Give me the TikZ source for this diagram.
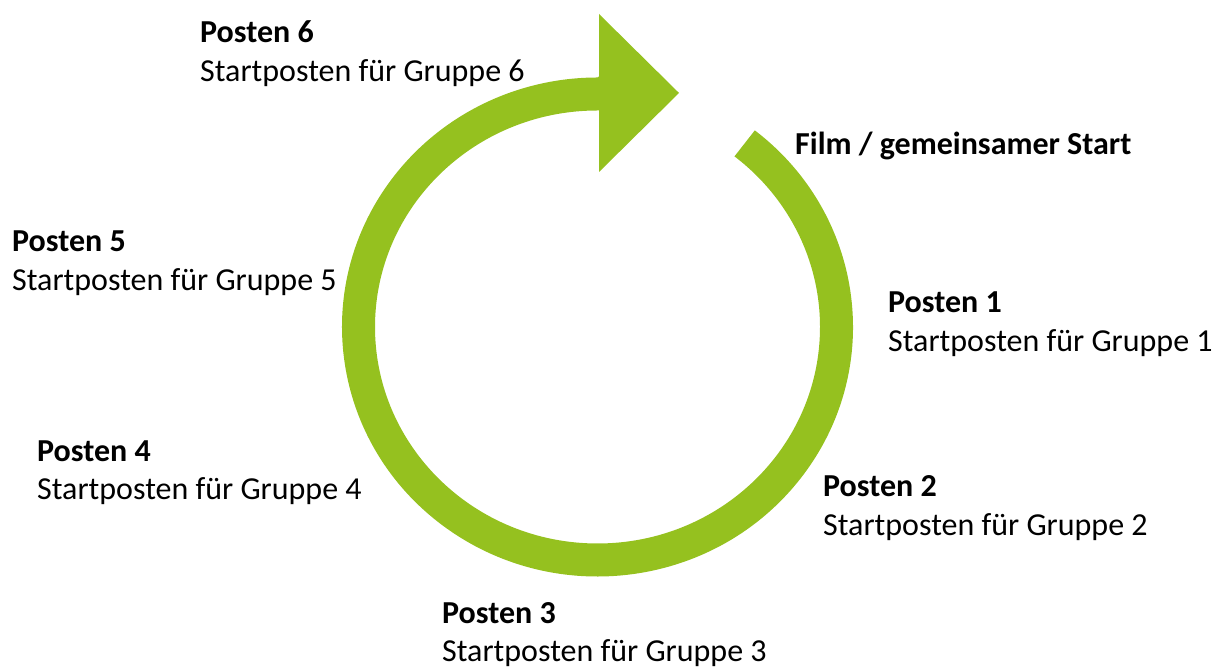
\documentclass[tikz,border=0pt]{standalone}
\usepackage{fontspec}
\setmainfont{Carlito}
\usetikzlibrary{calc}
\definecolor{ringgreen}{RGB}{149,193,31}
\begin{document}
\begin{tikzpicture}[x=1pt,y=1pt,
  ttl/.style={anchor=base west,inner sep=0pt,font=\fontsize{32}{39}\selectfont\bfseries},
  sub/.style={anchor=base west,inner sep=0pt,font=\fontsize{32}{39}\selectfont}]
\useasboundingbox (0,0) rectangle (1221,668);
% ring with arrow head (y = 668 - pixel row)
\coordinate (c) at (597.5,341);
\fill[ringgreen]
  ($(c)+(52:255.5 and 249.5)$) coordinate (outerstart)
  arc[start angle=52,end angle=-270,x radius=255.5,y radius=249.5]
  -- (599,591.5) -- (599,654) -- (679,575) -- (599,496) -- (599,557.5)
  -- ($(c)+(90:222.5 and 216.5)$)
  arc[start angle=90,end angle=412,x radius=222.5,y radius=216.5]
  -- cycle;
% labels
\node[ttl] (p6t) at (200,625) {Posten 6};
\node[sub] (p6s) at (200,586) {Startposten für Gruppe 6};
\node[ttl] (film) at (795,513) {Film / gemeinsamer Start};
\node[ttl] (p1t) at (888,355) {Posten 1};
\node[sub] (p1s) at (888,316) {Startposten für Gruppe 1};
\node[ttl] (p5t) at (12,416) {Posten 5};
\node[sub] (p5s) at (12,377) {Startposten für Gruppe 5};
\node[ttl] (p4t) at (37,206) {Posten 4};
\node[sub] (p4s) at (37,168) {Startposten für Gruppe 4};
\node[ttl] (p2t) at (823,171) {Posten 2};
\node[sub] (p2s) at (823,132) {Startposten für Gruppe 2};
\node[ttl] (p3t) at (442,44) {Posten 3};
\node[sub] (p3s) at (442,6) {Startposten für Gruppe 3};
\end{tikzpicture}
\end{document}
